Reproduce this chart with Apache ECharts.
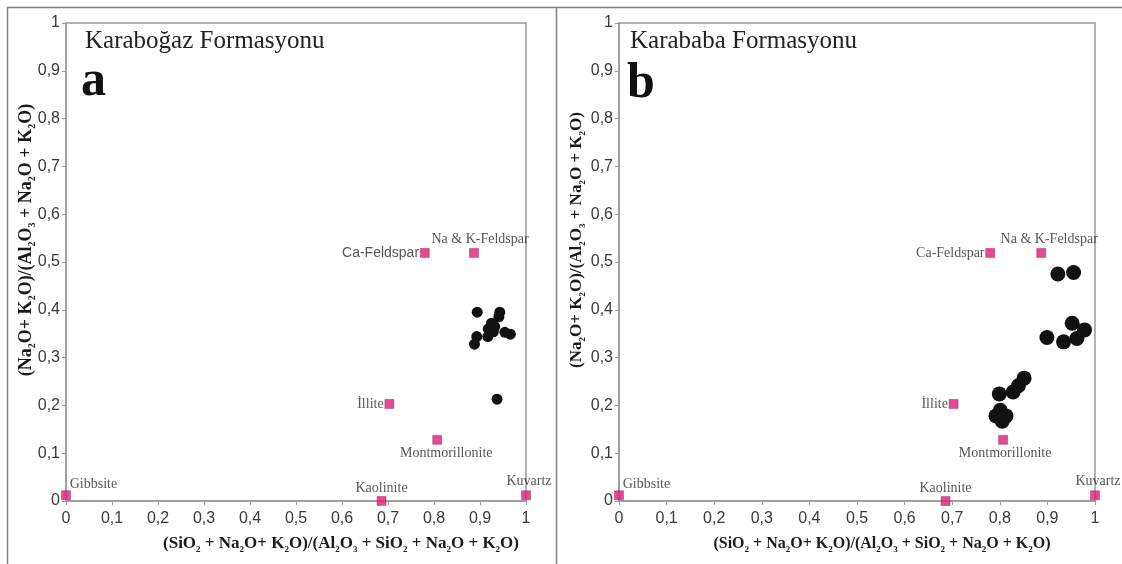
<!DOCTYPE html>
<html>
<head>
<meta charset="utf-8">
<script src="https://cdn.jsdelivr.net/npm/echarts@6/dist/echarts.min.js"></script>
<style>
  html, body { margin: 0; padding: 0; background: #fff; }
  #chart { width: 1122px; height: 564px; }
</style>
</head>
<body>
<div id="chart"></div>
<script>
// Reference minerals plotted in both diagrams
const minerals = ['Gibbsite', 'Kaolinite', 'Kuvartz', 'Ca-Feldspar', 'Na & K-Feldspar', 'İllite', 'Montmorillonite'];
const mineralX = [0, 0.686, 1, 0.78, 0.887, 0.703, 0.807];
const mineralY = [0.012, 0, 0.012, 0.519, 0.519, 0.203, 0.128];

// Karaboğaz Formation samples (a)
const karabogazX = [0.894, 0.943, 0.941, 0.925, 0.924, 0.929, 0.917, 0.954, 0.966, 0.893, 0.888, 0.918, 0.932, 0.937];
const karabogazY = [0.395, 0.395, 0.385, 0.372, 0.362, 0.354, 0.344, 0.353, 0.349, 0.344, 0.328, 0.360, 0.365, 0.213];

// Karababa Formation samples (b)
const karababaX = [0.922, 0.955, 0.952, 0.978, 0.962, 0.934, 0.899, 0.799, 0.828, 0.839, 0.851, 0.792, 0.805, 0.813, 0.801];
const karababaY = [0.475, 0.478, 0.372, 0.358, 0.340, 0.333, 0.342, 0.224, 0.228, 0.241, 0.257, 0.178, 0.167, 0.178, 0.190];

// Axis tick labels, 0 to 1 in steps of 0.1
const tickLabels = ['0', '0,1', '0,2', '0,3', '0,4', '0,5', '0,6', '0,7', '0,8', '0,9', '1'];

const panelTitles = ['Karaboğaz Formasyonu', 'Karababa Formasyonu'];
const panelLetters = ['a', 'b'];

const zip = (xs, ys) => xs.map((x, i) => [x, ys[i]]);

const SERIF = '"Liberation Serif", "Times New Roman", serif';
const SANS = '"Liberation Sans", Arial, sans-serif';
const PINK = '#d81f72';
const AXIS_GREY = '#9a9a9a';

// Label placement for each mineral marker, per panel
const labelPlacement = [
  {
    'Gibbsite': { position: 'right', offset: [-6, -11] },
    'Kaolinite': { position: 'top', offset: [0, 4] },
    'Kuvartz': { position: 'top', offset: [3, 3] },
    'Ca-Feldspar': { position: 'left', offset: [4, 0], fontFamily: SANS },
    'Na & K-Feldspar': { position: 'top', offset: [6, 3] },
    'İllite': { position: 'left', offset: [4, 0] },
    'Montmorillonite': { position: 'bottom', offset: [9, -3] }
  },
  {
    'Gibbsite': { position: 'right', offset: [-6, -11] },
    'Kaolinite': { position: 'top', offset: [0, 4] },
    'Kuvartz': { position: 'top', offset: [3, 3] },
    'Ca-Feldspar': { position: 'left', offset: [4, 0] },
    'Na & K-Feldspar': { position: 'top', offset: [8, 3] },
    'İllite': { position: 'left', offset: [4, 0] },
    'Montmorillonite': { position: 'bottom', offset: [2, -3] }
  }
];

function mineralData(panel) {
  return minerals.map((name, i) => {
    const p = labelPlacement[panel][name];
    return {
      name: name,
      value: [mineralX[i], mineralY[i]],
      label: {
        show: true,
        position: p.position,
        offset: p.offset,
        formatter: '{b}',
        fontFamily: p.fontFamily || SERIF,
        fontSize: 14,
        color: '#2a2a2a'
      }
    };
  });
}

const tickFmt = v => tickLabels[Math.round(v * 10)];

function xAxis(idx) {
  return {
    gridIndex: idx, type: 'value', min: 0, max: 1, interval: 0.1,
    axisLine: { show: true, onZero: false, lineStyle: { color: AXIS_GREY, width: 1.5 } },
    axisTick: { show: true, length: 4, lineStyle: { color: AXIS_GREY } },
    axisLabel: { formatter: tickFmt, fontFamily: SANS, fontSize: 16, color: '#3a3a3a', margin: 10 },
    splitLine: { show: false }
  };
}
function yAxis(idx) {
  return {
    gridIndex: idx, type: 'value', min: 0, max: 1, interval: 0.1,
    axisLine: { show: true, onZero: false, lineStyle: { color: AXIS_GREY, width: 1.5 } },
    axisTick: { show: true, length: 4, lineStyle: { color: AXIS_GREY } },
    axisLabel: { formatter: tickFmt, fontFamily: SANS, fontSize: 16, color: '#3a3a3a', margin: 6 },
    splitLine: { show: false }
  };
}

// Rich-text styles for chemical formulas with subscripts
function formulaRich(size) {
  return {
    b: { fontFamily: SERIF, fontWeight: 'bold', fontSize: size, fill: '#1a1a1a', color: '#1a1a1a' },
    s: { fontFamily: SERIF, fontWeight: 'bold', fontSize: Math.round(size * 0.55), fill: '#1a1a1a', color: '#1a1a1a', verticalAlign: 'bottom', padding: [0, 0, -2, 0] }
  };
}
const xNameText = '{b|(SiO}{s|2}{b| + Na}{s|2}{b|O+ K}{s|2}{b|O)/(Al}{s|2}{b|O}{s|3}{b| + SiO}{s|2}{b| + Na}{s|2}{b|O + K}{s|2}{b|O)}';
const yNameText = '{b|(Na}{s|2}{b|O+ K}{s|2}{b|O)/(Al}{s|2}{b|O}{s|3}{b| + Na}{s|2}{b|O + K}{s|2}{b|O)}';

const grids = [
  { left: 66, top: 23, width: 460, height: 478 },
  { left: 619, top: 23, width: 476, height: 478 }
];

// Per-panel placement of titles and axis names
const panelLayout = [
  { titleX: 85, letterX: 81, letterTop: 57, xNameX: 341, xNameSize: 17, yNameX: 26, yNameSize: 18 },
  { titleX: 630, letterX: 627, letterTop: 59, xNameX: 882, xNameSize: 16, yNameX: 577, yNameSize: 17 }
];

function panelGraphics(i) {
  const L = panelLayout[i];
  return [
    { type: 'text', left: L.titleX, top: 29, style: { text: panelTitles[i], font: '25px ' + SERIF, fill: '#222' } },
    { type: 'text', left: L.letterX, top: L.letterTop, style: { text: panelLetters[i], font: 'bold 50px ' + SERIF, fill: '#111' } },
    { type: 'text', x: L.xNameX, y: 544, style: { text: xNameText, rich: formulaRich(L.xNameSize), align: 'center', verticalAlign: 'middle' } },
    { type: 'text', x: L.yNameX, y: 240, rotation: Math.PI / 2, style: { text: yNameText, rich: formulaRich(L.yNameSize), align: 'center', verticalAlign: 'middle' } }
  ];
}

const chart = echarts.init(document.getElementById('chart'), null, { renderer: 'canvas' });

chart.setOption({
  backgroundColor: '#fff',
  animation: false,
  grid: grids.map(g => Object.assign({ show: true, borderColor: AXIS_GREY, borderWidth: 1.5, containLabel: false }, g)),
  xAxis: [xAxis(0), xAxis(1)],
  yAxis: [yAxis(0), yAxis(1)],
  graphic: [
    // outer frame and panel divider
    { type: 'polyline', shape: { points: [[7.5, 564], [7.5, 7.5], [1122, 7.5]] }, style: { stroke: '#808080', lineWidth: 1.5, fill: null } },
    { type: 'line', shape: { x1: 556.5, y1: 7.5, x2: 556.5, y2: 564 }, style: { stroke: '#808080', lineWidth: 1.5 } },
    ...panelGraphics(0),
    ...panelGraphics(1)
  ],
  series: [
    {
      type: 'scatter', xAxisIndex: 0, yAxisIndex: 0, clip: false,
      symbol: 'rect', symbolSize: 9,
      itemStyle: { color: PINK, borderColor: '#a0124f', borderWidth: 0.5 },
      data: mineralData(0), z: 3
    },
    {
      type: 'scatter', xAxisIndex: 0, yAxisIndex: 0, clip: false,
      symbol: 'circle', symbolSize: 11,
      itemStyle: { color: '#111', opacity: 1 },
      data: zip(karabogazX, karabogazY), z: 4
    },
    {
      type: 'scatter', xAxisIndex: 1, yAxisIndex: 1, clip: false,
      symbol: 'rect', symbolSize: 9,
      itemStyle: { color: PINK, borderColor: '#a0124f', borderWidth: 0.5 },
      data: mineralData(1), z: 3
    },
    {
      type: 'scatter', xAxisIndex: 1, yAxisIndex: 1, clip: false,
      symbol: 'circle', symbolSize: 15,
      itemStyle: { color: '#111', opacity: 1 },
      data: zip(karababaX, karababaY), z: 4
    }
  ]
});
</script>
</body>
</html>
